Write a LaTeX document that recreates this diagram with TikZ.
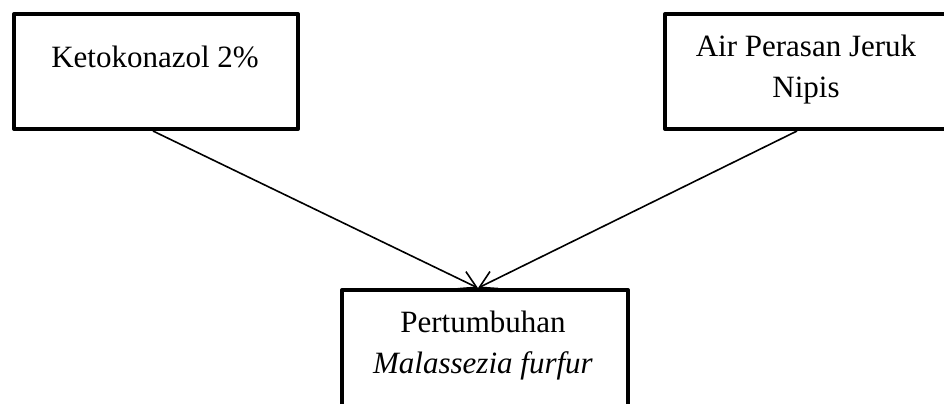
\documentclass[tikz,border=0pt]{standalone}
\usepackage{fontspec}
\setmainfont{Liberation Serif}
\usetikzlibrary{arrows.meta}

\begin{document}
\begin{tikzpicture}[x=0.5pt,y=-0.5pt]
\path[use as bounding box] (0,0) rectangle (944,403);
\clip (0,0) rectangle (944,403);
\tikzstyle{factor}=[draw,line width=2pt,line join=round,minimum width=142pt,minimum height=57.5pt,inner sep=0pt]
\tikzstyle{txt}=[font=\fontsize{15.5}{20.5}\selectfont,align=center,inner sep=0pt,anchor=base]
\tikzstyle{arrow}=[-{Straight Barb[length=8.2pt,width=9.5pt]},line width=0.8pt]

% boxes
\node[factor] (keto) at (156,71.5) {};
\node[factor,minimum width=141pt] (jeruk) at (806,71.5) {};
\node[factor,minimum width=143pt,minimum height=65pt] (growth) at (485,355) {};

% texts (base = last line)
\node[txt] (ketotxt) at (155,67) {Ketokonazol 2\%};
\node[txt] (jeruktxt) at (806,97) {Air Perasan Jeruk\\Nipis};
\node[txt] (growthtxt) at (483,373) {Pertumbuhan\\\textit{Malassezia furfur}};

\draw[arrow] ([xshift=-1.5pt]keto.south) -- ([xshift=-3.5pt]growth.north);
\draw[arrow] ([xshift=-4.5pt]jeruk.south) -- ([xshift=-3.5pt]growth.north);
\end{tikzpicture}
\end{document}
